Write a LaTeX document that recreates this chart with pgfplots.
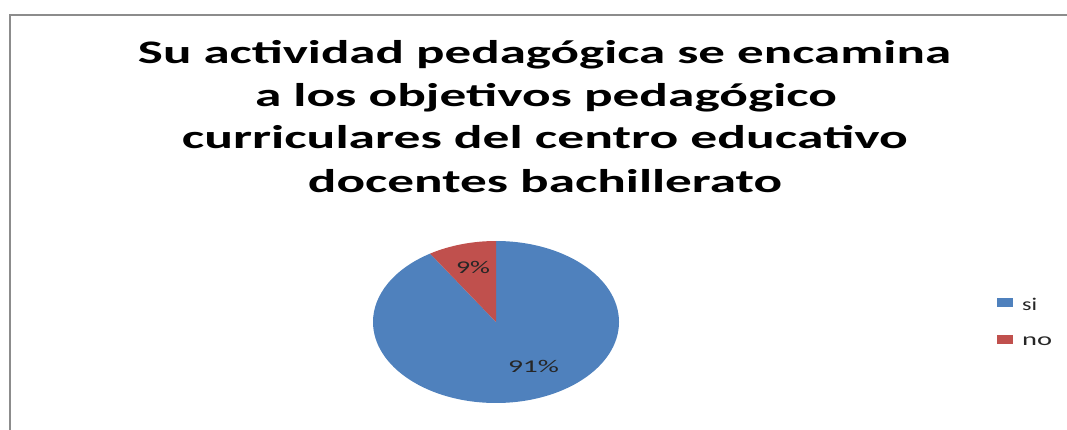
\documentclass[border=0pt]{standalone}
\usepackage{pgfplots}
\pgfplotsset{compat=1.18}
\usepackage{pgfplotstable}
\usepackage{graphicx}
\usepackage{fontspec}
\setmainfont{Carlito}
\definecolor{pieblue}{HTML}{4F81BD}
\definecolor{piered}{HTML}{C0504D}
\definecolor{framegray}{HTML}{8C8C8C}

\pgfplotstableread{
label value
si 91
no 9
}\piedata
\pgfplotstablegetelem{0}{value}\of\piedata \let\vsi\pgfplotsretval
\pgfplotstablegetelem{1}{value}\of\piedata \let\vno\pgfplotsretval
\pgfmathsetmacro\aA{90}
\pgfmathsetmacro\aB{90-3.6*\vsi}
\pgfmathsetmacro\aC{\aB-3.6*\vno}
\pgfmathsetmacro\cx{496}
\pgfmathsetmacro\cy{108}
\pgfmathsetmacro\rx{123}
\pgfmathsetmacro\ry{81}
\pgfmathsetmacro\pAx{\cx+\rx*cos(\aA)}
\pgfmathsetmacro\pAy{\cy+\ry*sin(\aA)}
\pgfmathsetmacro\pBx{\cx+\rx*cos(\aB)}
\pgfmathsetmacro\pBy{\cy+\ry*sin(\aB)}

\newcommand\sq[3]{\resizebox{#1bp}{\height}{\fontsize{#2}{#2}\selectfont #3}}

\begin{document}
\begin{tikzpicture}
\begin{axis}[
  scale only axis, width=1067bp, height=430bp,
  xmin=0, xmax=1067, ymin=0, ymax=430,
  hide axis, clip=true,
]
\path (axis cs:0,0) rectangle (axis cs:1067,430);
% frame
\draw[framegray, line width=2.5bp] (axis cs:10,0) -- (axis cs:10,415) -- (axis cs:1067,415);
% title
\node[anchor=base, inner sep=0pt] at (axis cs:544.5,367) {\sq{813}{33}{\bfseries Su actividad pedagógica se encamina}};
\node[anchor=base, inner sep=0pt] at (axis cs:546,324) {\sq{582}{33}{\bfseries a los objetivos pedagógico}};
\node[anchor=base, inner sep=0pt] at (axis cs:545,282) {\sq{726}{33}{\bfseries curriculares del centro educativo}};
\node[anchor=base, inner sep=0pt] at (axis cs:545,238) {\sq{474}{33}{\bfseries docentes bachillerato}};
% pie slices from data
\fill[pieblue] (axis cs:\cx,\cy) -- (axis cs:\pAx,\pAy) arc[start angle=\aA, end angle=\aB, x radius=\rx, y radius=\ry] -- cycle;
\fill[piered] (axis cs:\cx,\cy) -- (axis cs:\pBx,\pBy) arc[start angle=\aB, end angle=\aC, x radius=\rx, y radius=\ry] -- cycle;
% data labels
\node[anchor=base, inner sep=0pt, text=black!85] at (axis cs:473,157) {\sq{34}{18}{\vno\%}};
\node[anchor=base, inner sep=0pt, text=black!85] at (axis cs:533.5,58) {\sq{51}{18}{\vsi\%}};
% legend
\fill[pieblue] (axis cs:997,123) rectangle (axis cs:1013,132);
\fill[piered] (axis cs:997,86) rectangle (axis cs:1013,95);
\node[anchor=base west, inner sep=0pt, text=black!85] at (axis cs:1022,120) {\sq{15}{18}{si}};
\node[anchor=base west, inner sep=0pt, text=black!85] at (axis cs:1022,85) {\sq{30}{18}{no}};
\end{axis}
\end{tikzpicture}
\end{document}
